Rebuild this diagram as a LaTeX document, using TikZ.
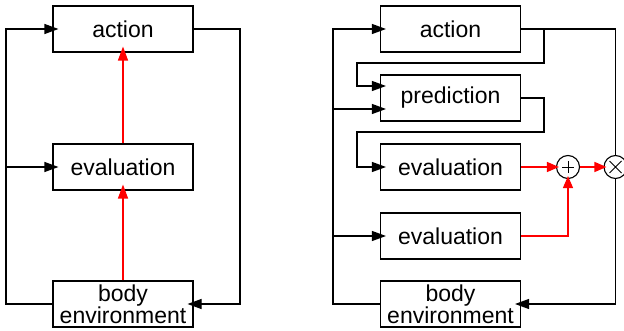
\documentclass[tikz,border=0pt]{standalone}
\usepackage{fontspec}
\setmainfont{Liberation Sans}
\usetikzlibrary{arrows.meta,calc}
\begin{document}
\begin{tikzpicture}[x=1pt,y=-1pt,line width=1.1pt,
  box/.style={draw,minimum width=140pt,minimum height=46pt,inner sep=0pt,align=center,
    font=\fontsize{23}{20}\selectfont},
  op/.style={draw,circle,minimum size=23pt,inner sep=0pt},
  arr/.style={-{Triangle[length=14pt,width=10pt]},shorten >=-6pt},
  carr/.style={-{Triangle[length=12pt,width=10pt]},shorten >=-3pt},
  redline/.style={draw=red,line width=1.4pt}]
\useasboundingbox (0,0) rectangle (624,331);
% left diagram
\node[box] (la) at (123,29) {action};
\node[box] (le) at (123,167) {evaluation};
\node[box] (lb) at (123,304) {body\\environment};
\coordinate (l1) at (6,304);
\coordinate (l2) at (6,167);
\coordinate (l3) at (240,29);
\draw[arr] (lb.west) -- (l1) |- (la.west);
\draw[arr] (l2) -- (le.west);
\draw[arr] (la.east) -- (l3) |- (lb.east);
\draw[arr,redline] (le.north) -- (la.south);
\draw[arr,redline] (lb.north) -- (le.south);
% right diagram
\node[box] (ra) at (450.5,29) {action};
\node[box] (rp) at (450.5,98) {prediction};
\node[box] (re1) at (450.5,167) {evaluation};
\node[box] (re2) at (450.5,236) {evaluation};
\node[box] (rb) at (450.5,304) {body\\environment};
\node[op] (plus) at (568,167) {};
\node[op] (times) at (615.5,167) {};
\draw[line width=0.9pt] (plus.center) +(-6,0) -- +(6,0) (plus.center) +(0,-6) -- +(0,6);
\draw[line width=0.9pt] (times.center) +(-6,-6) -- +(6,6) (times.center) +(-6,6) -- +(6,-6);
\coordinate (r1) at (333,304);
\coordinate (r2) at (333,109);
\coordinate (r3) at (333,236);
\draw[arr] (rb.west) -- (r1) |- (ra.west);
\draw[arr] (r2) -- (r2 -| rp.west);
\draw[arr] (r3) -- (re2.west);
\coordinate (a1) at (615.5,29);
\coordinate (a2) at (544,29);
\coordinate (a3) at (544,63);
\coordinate (a4) at (357,63);
\coordinate (a5) at (357,86);
\draw (ra.east) -- (a1) -- (times.north);
\draw[arr] (a2) -- (a3) -- (a4) -- (a5) -- (a5 -| rp.west);
\coordinate (p1) at (544,98);
\coordinate (p2) at (544,132);
\coordinate (p3) at (357,132);
\coordinate (p4) at (357,167);
\draw[arr] (rp.east) -- (p1) -- (p2) -- (p3) -- (p4) -- (re1.west);
\coordinate (e1) at (568,236);
\draw[carr,redline] (re1.east) -- (plus.west);
\draw[carr,redline] (re2.east) -- (e1) -- (plus.south);
\draw[carr,redline] (plus.east) -- (times.west);
\coordinate (t1) at (615.5,304);
\draw[arr] (times.south) -- (t1) -- (rb.east);
\end{tikzpicture}
\end{document}
